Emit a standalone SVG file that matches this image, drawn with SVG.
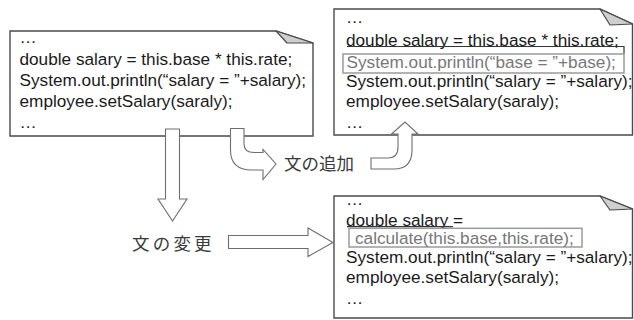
<svg xmlns="http://www.w3.org/2000/svg" width="634" height="320" viewBox="0 0 634 320">
  <style>
    .doc { fill: #ffffff; stroke: #4a4a4a; stroke-width: 1.4; }
    .fold { fill: #cfcfcf; stroke: #4a4a4a; stroke-width: 1.2; stroke-linejoin: round; }
    .code { font-family: "Liberation Sans", Arial, sans-serif; font-size: 17.2px; fill: #1a1a1a; }
    .added { fill: #777777; }
    .hl { fill: none; stroke: #9a9a9a; stroke-width: 1.5; }
    .uline { stroke: #333333; stroke-width: 1.2; fill: none; }
    .block { fill: #ffffff; stroke: #6e6e6e; stroke-width: 1.1; stroke-linejoin: miter; }
    .label { font-family: "Noto Sans CJK JP", "Noto Sans", sans-serif; font-size: 17.5px; fill: #3a3a3a; }
  </style>

  <!-- original code fragment -->
  <g id="original">
    <path class="doc" d="M10,31 H276 L313,43 V136 H10 Z"/>
    <path class="fold" d="M276,31 L287,43 L313,43 Z"/>
    <text class="code" x="19.5" y="43">…</text>
    <text class="code" x="19.5" y="65">double salary = this.base * this.rate;</text>
    <text class="code" x="19.5" y="86">System.out.println(“salary = ”+salary);</text>
    <text class="code" x="19.5" y="107">employee.setSalary(saraly);</text>
    <text class="code" x="19.5" y="128">…</text>
  </g>

  <!-- fragment after a statement is added -->
  <g id="added">
    <path class="doc" d="M334,9 H600 L632.5,24 V135 H334 Z"/>
    <path class="fold" d="M600,9 L610,25 L632.5,24 Z"/>
    <text class="code" x="346" y="23">…</text>
    <text class="code" x="346" y="46">double salary = this.base * this.rate;</text>
    <path class="uline" d="M347,46.5 H624 V54"/>
    <rect class="hl" x="343" y="54" width="281" height="19"/>
    <text class="code added" x="346.5" y="68">System.out.println(“base = ”+base);</text>
    <text class="code" x="346" y="87">System.out.println(“salary = ”+salary);</text>
    <text class="code" x="346" y="107">employee.setSalary(saraly);</text>
    <text class="code" x="346" y="128">…</text>
  </g>

  <!-- fragment after a statement is changed -->
  <g id="changed">
    <path class="doc" d="M334,196 H600 L632.5,209 V318 H334 Z"/>
    <path class="fold" d="M600,196 L610,210 L632.5,209 Z"/>
    <text class="code" x="346" y="205">…</text>
    <text class="code" x="346" y="225.5">double salary =</text>
    <path class="uline" d="M347,226.7 H453"/>
    <rect class="hl" x="349" y="228.3" width="233" height="18.7"/>
    <text class="code added" x="355" y="243.5">calculate(this.base,this.rate);</text>
    <text class="code" x="346" y="263">System.out.println(“salary = ”+salary);</text>
    <text class="code" x="346" y="283">employee.setSalary(saraly);</text>
    <text class="code" x="346" y="304">…</text>
  </g>

  <!-- block arrows between the fragments -->
  <g id="connectors">
    <!-- straight down, toward the "change" label -->
    <path class="block" d="M165.5,129 H179.5 V199 H187 L172.5,221 L158,199 H165.5 Z"/>
    <!-- curved, from the original toward the "add" label -->
    <path class="block" d="M230.5,128.5 H244 V144 Q244,152.5 254,152.5 H263 V149.5 L276,164 L263,179.5 V170 H252 Q230.5,170 230.5,150 Z"/>
    <!-- curved, from the "add" label up into the added fragment -->
    <path class="block" d="M371,158 H388 Q398,158 398,147 V134 H391.5 L405,122 L418,134 H412 V150 Q412,169 394,169 H371 Z"/>
    <!-- straight right, into the changed fragment -->
    <path class="block" d="M228.5,235.5 H308 V228 L333,242.5 L308,256.5 V248.5 H228.5 Z"/>
  </g>

  <g id="labels">
    <text class="label" x="284" y="169.5">文の追加</text>
    <text class="label" x="132" y="249.5" letter-spacing="3.2">文の変更</text>
  </g>
</svg>
